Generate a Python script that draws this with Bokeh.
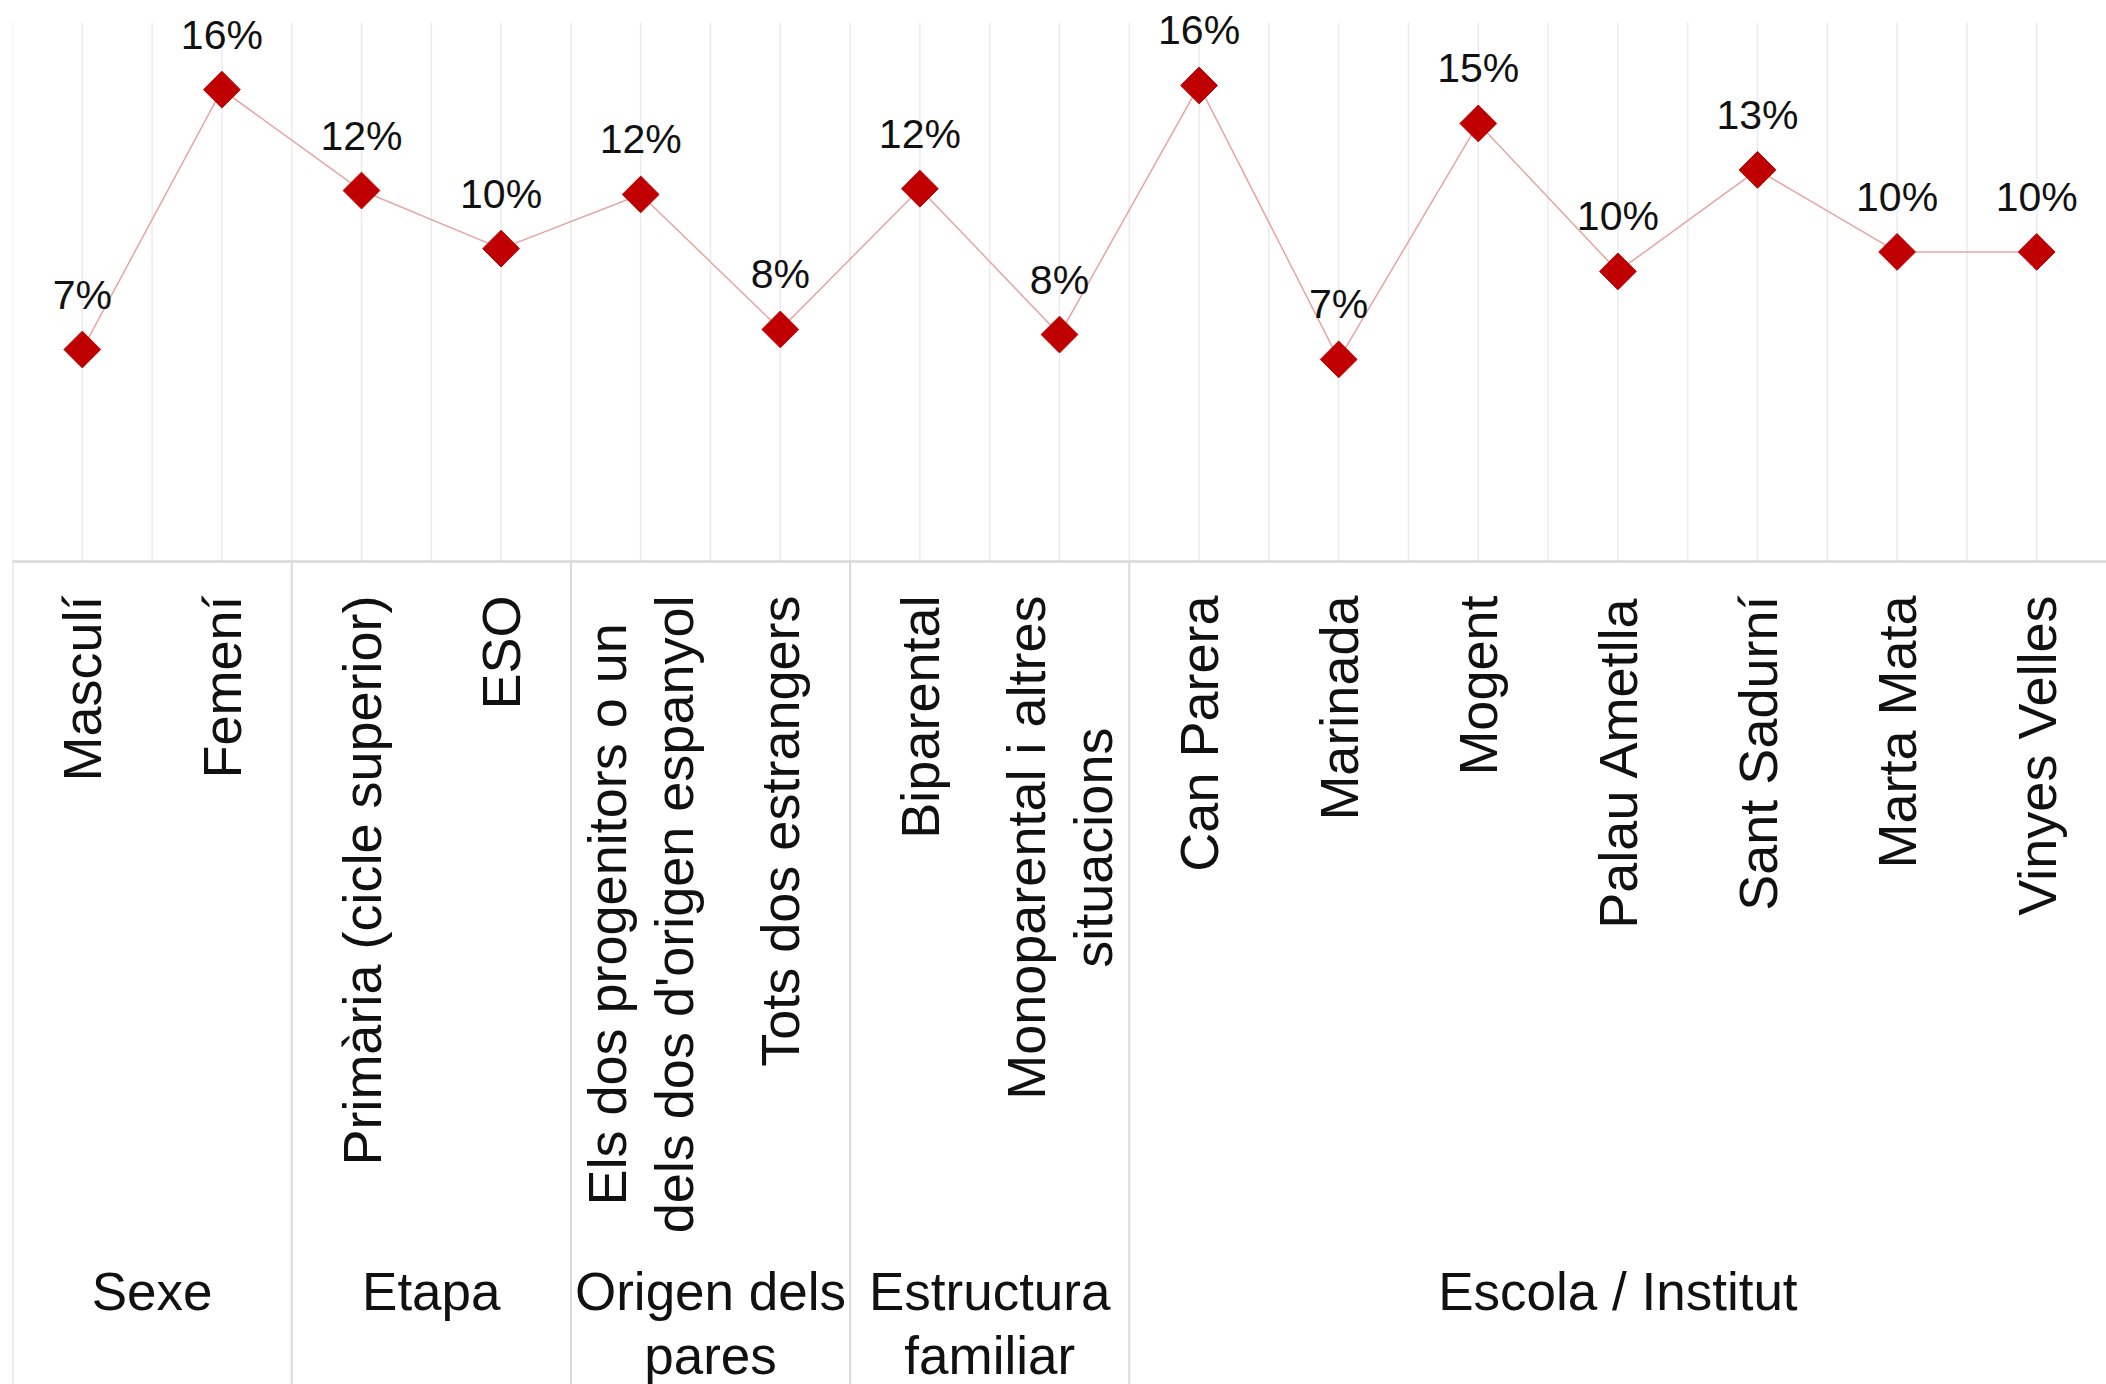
import numpy as np
from bokeh.plotting import figure
from bokeh.models import ColumnDataSource, Range1d
from bokeh.core.properties import value
from bokeh.embed import file_html
from bokeh.resources import INLINE

# ---------------- data ----------------
categories = [
    "Masculí", "Femení",
    "Primària (cicle superior)", "ESO",
    "Els dos progenitors o un\ndels dos d'origen espanyol", "Tots dos estrangers",
    "Biparental", "Monoparental i altres\nsituacions",
    "Can Parera", "Marinada", "Mogent", "Palau Ametlla",
    "Sant Sadurní", "Marta Mata", "Vinyes Velles",
]
values = [7.08, 15.76, 12.39, 10.45, 12.26, 7.75, 12.45, 7.58,
          15.90, 6.75, 14.63, 9.69, 13.08, 10.34, 10.34]
groups = ["Sexe", "Etapa", "Origen dels\npares", "Estructura\nfamiliar", "Escola / Institut"]
group_sizes = [2, 2, 2, 2, 7]

# ---------------- layout ----------------
FONT = value("Liberation Sans")
W, H = 2106, 1384
PX = 29.94            # pixels per percentage point
AXIS_Y = 561          # axis line distance from figure top
Y_END = AXIS_Y / PX
Y_START = -(H - AXIS_Y) / PX
GRID_TOP = (561 - 22) / PX
n = len(categories)

p = figure(width=W, height=H, output_backend="svg", toolbar_location=None,
           x_range=Range1d(0, n), y_range=Range1d(Y_START, Y_END),
           x_axis_location=None, y_axis_location=None,
           min_border_left=12, min_border_right=0, min_border_top=0, min_border_bottom=0)
p.outline_line_color = None
p.grid.visible = False
p.background_fill_color = "white"
p.border_fill_color = "white"

# vertical grid lines (every half category) in plot area
gx = [i * 0.5 for i in range(2 * n)]
p.segment(x0=gx, y0=[0] * len(gx), x1=gx, y1=[GRID_TOP] * len(gx),
          line_color="#ebebeb", line_width=1.5)

# group separators below axis
bounds = list(np.cumsum([0] + group_sizes[:-1]))
p.segment(x0=bounds, y0=[0] * len(bounds), x1=bounds, y1=[Y_START] * len(bounds),
          line_color="#d9d9d9", line_width=2)

# axis line
p.segment(x0=[0], y0=[0], x1=[n], y1=[0], line_color="#d9d9d9", line_width=2.5)

xs = [i + 0.5 for i in range(n)]
src = ColumnDataSource(dict(
    x=xs, y=values,
    lab=[f"{round(v)}%" for v in values],
    ly=[v + 55 / PX for v in values],
    cat=categories,
    cy=[-34 / PX] * n,
))

p.line("x", "y", source=src, line_color="#e8a4a4", line_width=1.5)
p.scatter("x", "y", source=src, marker="square", angle=np.pi / 4, size=26,
          fill_color="#c00000", line_color="#c00000")

p.text("x", "ly", text="lab", source=src, text_font=FONT, text_font_size="41px",
       text_align="center", text_baseline="alphabetic", text_color="#111111")

# category labels (rotated)
p.text("x", "cy", text="cat", source=src, text_font=FONT, text_font_size="54px",
       angle=np.pi / 2, anchor="center_right", text_align="center",
       text_line_height=1.12, text_color="#111111")

# group labels
gcx = [b + s / 2 for b, s in zip(bounds, group_sizes)]
gsrc = ColumnDataSource(dict(x=gcx, y=[-(1261 - 561) / PX] * len(groups), t=groups))
p.text("x", "y", text="t", source=gsrc, text_font=FONT, text_font_size="53px",
       anchor="top_center", text_align="center", text_line_height=1.09,
       text_color="#111111")

open("out.html", "w").write(file_html(p, INLINE))
